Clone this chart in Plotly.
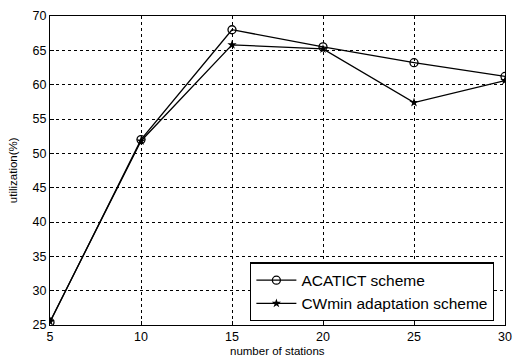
import plotly.graph_objects as go

stations = [5, 10, 15, 20, 25, 30]
acatict = [25.4, 52.0, 68.0, 65.5, 63.2, 61.2]
cwmin = [25.5, 51.8, 65.8, 65.2, 57.4, 60.6]
x_ticks = [5, 10, 15, 20, 25, 30]
y_ticks = [25, 30, 35, 40, 45, 50, 55, 60, 65, 70]

fig = go.Figure()
fig.add_trace(go.Scatter(
    x=stations, y=acatict, mode="lines+markers", name="ACATICT scheme",
    line=dict(color="black", width=1.3),
    marker=dict(symbol="circle-open", size=8, color="black", line=dict(width=1.3)),
))
fig.add_trace(go.Scatter(
    x=stations, y=cwmin, mode="lines+markers", name="CWmin adaptation scheme",
    line=dict(color="black", width=1.3),
    marker=dict(symbol="star", size=7, color="black"),
))

axis_common = dict(
    showline=True, linecolor="black", linewidth=1.3, mirror=True,
    showgrid=True, gridcolor="black", griddash="dot", gridwidth=1,
    ticks="inside", ticklen=4, tickcolor="black",
    tickfont=dict(family="Arial, Liberation Sans", size=12.5, color="black"),
    zeroline=False, automargin=False, ticklabeloverflow="allow",
)

fig.update_xaxes(range=[5, 30], tickvals=x_ticks, **axis_common)
fig.update_yaxes(range=[25, 70], tickvals=y_ticks, **axis_common)

title_font = dict(family="Arial, Liberation Sans", size=11.5, color="black")
fig.add_annotation(text="number of stations", xref="paper", yref="paper",
                   x=0.5, y=-0.085, xanchor="center", yanchor="middle",
                   showarrow=False, font=title_font)
fig.add_annotation(text="utilization(%)", xref="paper", yref="paper",
                   x=-0.082, y=0.5, xanchor="center", yanchor="middle",
                   textangle=-90, showarrow=False, font=title_font)

fig.update_layout(
    width=513, height=359,
    margin=dict(l=50, r=8, t=16, b=34),
    paper_bgcolor="white", plot_bgcolor="white",
    showlegend=True,
    legend=dict(x=0.976, y=0.012, xanchor="right", yanchor="bottom",
                bgcolor="white", bordercolor="black", borderwidth=1.3,
                font=dict(family="Arial, Liberation Sans", size=15.5, color="black"),
                itemwidth=40),
)

fig.write_html("out.html", config={"displayModeBar": False},
               post_script="document.body.style.margin='0';document.body.style.padding='0';document.body.style.overflow='hidden';")
